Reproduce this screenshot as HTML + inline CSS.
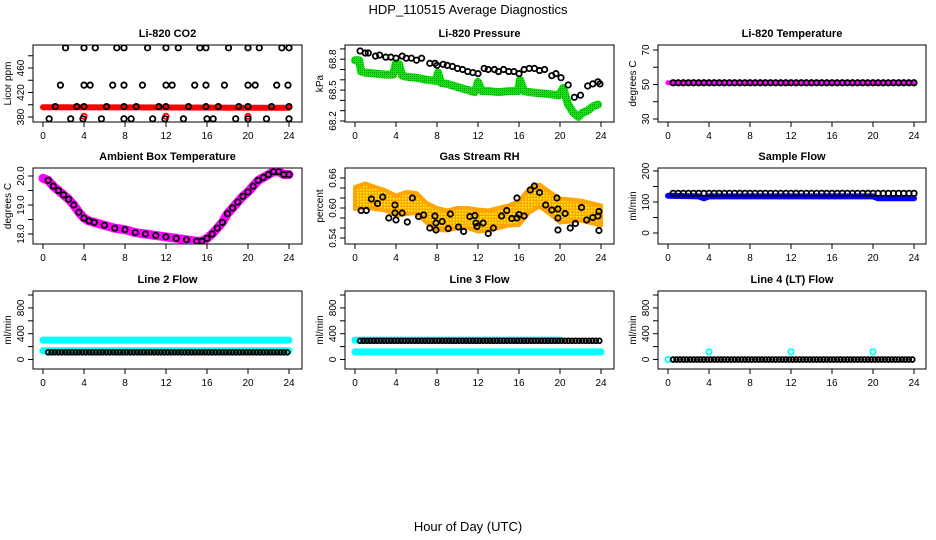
<!DOCTYPE html>
<html><head><meta charset="utf-8">
<style>
body{margin:0;background:#fff;}
svg{display:block;font-family:"Liberation Sans",sans-serif;}
</style></head>
<body>
<svg id="chart" width="936" height="540" viewBox="0 0 936 540">
<defs>
<pattern id="rhdots" width="3" height="3" patternUnits="userSpaceOnUse"><rect width="3" height="3" fill="#ffa500"/><rect width="1.5" height="1.5" fill="#ffff00"/></pattern>
<pattern id="grdots" width="2" height="2" patternUnits="userSpaceOnUse"><rect width="2" height="2" fill="#00ee00"/><rect width="1" height="1" fill="#009900"/></pattern>
</defs>
<text x="468" y="14" text-anchor="middle" font-size="13">HDP_110515  Average Diagnostics</text>
<text x="468" y="531" text-anchor="middle" font-size="13">Hour of Day (UTC)</text>
</svg>
<script>
// ---- data ----
const xTicks=[0,4,8,12,16,20,24];
const co2Top=[2.2,4.0,5.1,7.2,7.9,10.2,12.0,13.2,15.3,15.9,18.1,20.0,21.1,23.3,24.0];
const co2Mid=[1.7,4.0,4.6,6.8,7.9,9.7,12.0,12.6,14.8,15.9,17.7,20.0,20.7,22.8,23.9];
const co2Low=[1.2,3.3,4.0,6.2,7.9,9.1,11.3,12.0,14.2,15.9,17.1,19.1,20.0,22.3,24.0];
const co2Bot=[0.6,2.7,3.9,5.7,7.9,8.6,10.7,11.9,13.7,16.0,16.6,18.8,20.0,21.8,24.0];
const co2Levels=[493,432,397,377];
const co2RedHours=[0,24];const co2RedValues=[396,395];
const co2RedPts=[4,12,20];const co2RedPtVal=[381,381,381];

const presHours=[0.5,1.0,1.3,2.0,2.4,3.0,3.5,4.0,4.6,5.0,5.5,6.0,6.5,7.3,7.8,8.0,8.6,9.0,9.5,10.0,10.5,11.0,11.5,12.0,12.6,13.0,13.6,14.0,14.5,15.0,15.5,16.0,16.5,17.0,17.5,18.0,18.5,19.2,19.6,20.1,20.8,21.4,22.0,22.7,23.2,23.7,23.9];
const presValues=[68.88,68.86,68.86,68.83,68.84,68.82,68.82,68.81,68.83,68.81,68.81,68.79,68.81,68.76,68.76,68.74,68.75,68.74,68.73,68.71,68.70,68.68,68.67,68.66,68.71,68.70,68.70,68.68,68.70,68.68,68.68,68.66,68.70,68.71,68.71,68.69,68.70,68.64,68.66,68.62,68.55,68.43,68.45,68.54,68.56,68.58,68.56];
const greenHours=[0,0.4,0.6,1,2,3,3.7,4,4.3,4.6,5,6,7,7.9,8.1,8.4,9,10,11,11.7,12,12.4,13,14,15,15.9,16.1,16.5,17,18,19,19.9,20.3,20.8,21.3,21.8,22.2,22.7,23.2,23.7];
const greenValues=[68.79,68.79,68.68,68.67,68.66,68.65,68.65,68.76,68.75,68.64,68.63,68.62,68.60,68.59,68.67,68.57,68.56,68.53,68.50,68.48,68.58,68.49,68.49,68.48,68.49,68.49,68.60,68.49,68.48,68.47,68.46,68.45,68.52,68.36,68.28,68.24,68.28,68.30,68.34,68.36];

const tempHours=[0,24];const tempValues=[51,51];

const ambHours=[0,0.5,1,1.5,2,2.5,3,3.5,4,4.5,5,6,7,8,9,10,11,12,13,14,15,15.5,16,16.5,17,17.5,18,18.5,19,19.5,20,20.5,21,21.5,22,22.5,23,23.5,24];
const ambValues=[19.92,19.85,19.65,19.5,19.35,19.2,19.0,18.75,18.55,18.45,18.4,18.3,18.2,18.15,18.05,18.0,17.95,17.9,17.85,17.8,17.75,17.75,17.85,18.0,18.2,18.4,18.7,18.9,19.1,19.3,19.45,19.65,19.85,19.95,20.05,20.15,20.15,20.05,20.05];

const rhBandHours=[0,1,2,3,4,5,6,7,8,9,10,11,12,13,14,15,16,17,18,19,20,21,22,23,24];
const rhBandMean=[0.62,0.625,0.62,0.615,0.605,0.61,0.61,0.59,0.578,0.575,0.58,0.58,0.575,0.575,0.58,0.585,0.59,0.615,0.625,0.61,0.595,0.595,0.595,0.59,0.585];
const rhBandSpread=[0.022,0.024,0.022,0.02,0.02,0.022,0.02,0.02,0.022,0.02,0.02,0.02,0.022,0.02,0.02,0.02,0.024,0.024,0.022,0.022,0.024,0.022,0.02,0.02,0.02];
const rhHours=[0.6,1.1,1.6,2.2,2.7,3.3,3.9,3.9,4.0,4.6,5.1,5.6,6.2,6.7,7.3,7.8,7.9,7.9,8.5,9.1,9.3,10.1,10.6,11.2,11.7,11.8,11.9,12.5,13.0,13.5,14.3,14.8,15.3,15.8,15.8,16.0,16.5,17.1,17.5,18.0,18.6,19.2,19.7,19.8,19.8,19.8,20.5,21.0,21.5,22.1,22.6,23.2,23.7,23.8,23.8];
const rhValues=[0.595,0.595,0.618,0.609,0.622,0.58,0.606,0.59,0.576,0.59,0.572,0.62,0.583,0.586,0.56,0.584,0.57,0.556,0.573,0.559,0.588,0.562,0.553,0.583,0.585,0.57,0.563,0.57,0.549,0.56,0.584,0.595,0.579,0.62,0.58,0.587,0.584,0.636,0.644,0.631,0.606,0.596,0.62,0.598,0.58,0.556,0.589,0.56,0.569,0.601,0.576,0.581,0.584,0.593,0.555];

const sampleBlueHours=[0,3,3.5,4,4.5,8,8.5,12,12.5,16,16.5,20,20.5,24];
const sampleBlueValues=[120,118,112,118,118,118,118,118,118,118,118,118,112,112];
const sampleBlack=128;

const line2CyanHi=300, line2CyanLo=135, line2Black=112;
const line3CyanHi=300, line3CyanHiEnd=20, line3CyanLo=118, line3Black=290;
const line4Black=0, line4SpikeHours=[4,12,20], line4SpikeValues=[118,118,118];

// ---- layout ----
const cols=[{l:33,r:302},{l:345,r:614},{l:658,r:926}];
const rows=[{t:45,b:122},{t:168,b:244},{t:291,b:369}];
const svg=document.getElementById('chart');
const NS='http://www.w3.org/2000/svg';
function mk(tag,attrs,parent){const e=document.createElementNS(NS,tag);for(const k in attrs)e.setAttribute(k,attrs[k]);(parent||svg).appendChild(e);return e;}
function seq(a,b,s){const o=[];for(let v=a;v<=b+1e-9;v+=s)o.push(+v.toFixed(4));return o;}

function panel(ci,ri,o){
  const c=cols[ci],r=rows[ri];
  const g=mk('g',{});
  
  
  const x0=c.l+10,xs=246/24;
  const X=h=>x0+h*xs;
  const Y=v=>r.b-(v-o.ymin)/(o.ymax-o.ymin)*(r.b-r.t);
  const box=mk('rect',{x:c.l,y:r.t,width:c.r-c.l,height:r.b-r.t,fill:'none',stroke:'#000','stroke-width':1},g);
  
  
  const t=mk('text',{x:(c.l+c.r)/2,y:r.t-8,'text-anchor':'middle','font-size':11,'font-weight':'bold'},g);
  t.textContent=o.title;
  
  
  xTicks.forEach(h=>{
    mk('line',{x1:X(h),x2:X(h),y1:r.b,y2:r.b+5,stroke:'#000'},g);
    const tl=mk('text',{x:X(h),y:r.b+17,'text-anchor':'middle','font-size':10},g);
    tl.textContent=h;
    
    
  });
  o.yticks.forEach(v=>{mk('line',{x1:c.l-5,x2:c.l,y1:Y(v),y2:Y(v),stroke:'#000'},g);});
  o.ylabels.forEach(v=>{
    const yl=mk('text',{x:0,y:0,'text-anchor':'middle','font-size':10,transform:`translate(${c.l-9},${Y(v)}) rotate(-90)`},g);
    yl.textContent=o.fmt?o.fmt(v):v;
    
    
  });
  const at=mk('text',{x:0,y:0,'text-anchor':'middle','font-size':10,transform:`translate(${c.l-22},${(r.t+r.b)/2}) rotate(-90)`},g);
  at.textContent=o.ylab;
  
  
  const clip='clip'+ci+ri;
  const cp=mk('clipPath',{id:clip},g);mk('rect',{x:c.l,y:r.t,width:c.r-c.l,height:r.b-r.t},cp);
  const d=mk('g',{'clip-path':`url(#${clip})`},g);
  return {X,Y,g:d};
}
function band(p,hours,vals,color,w,name){
  const pl=mk('polyline',{points:hours.map((h,i)=>p.X(h)+','+p.Y(vals[i])).join(' '),fill:'none',stroke:color,'stroke-width':w,'stroke-linejoin':'round','stroke-linecap':'round'},p.g);
  
  
}
function pts(p,hours,vals,color,name,rad){
  hours.forEach((h,i)=>{
    const v=Array.isArray(vals)?vals[i]:vals;
    const c=mk('circle',{cx:p.X(h),cy:p.Y(v),r:rad||2.7,fill:'none',stroke:color,'stroke-width':1.8},p.g);
    
    
  });
}
const halfHours=seq(0.5,24,0.5);

// CO2
let p=panel(0,0,{name:'co2-panel',title:'Li-820 CO2',ylab:'Licor ppm',ymin:371.8,ymax:497.6,yticks:[380,400,420,440,460,480],ylabels:[380,420,460]});
band(p,co2RedHours,co2RedValues,'#ff0000',6,'co2-series');
pts(p,co2RedPts,co2RedPtVal,'#ff0000','co2-red-point');
pts(p,co2Top,co2Levels[0],'#000','co2-point');
pts(p,co2Mid,co2Levels[1],'#000','co2-point');
pts(p,co2Low,co2Levels[2],'#000','co2-point');
pts(p,co2Bot,co2Levels[3],'#000','co2-point');

// Pressure
p=panel(1,0,{name:'pressure-panel',title:'Li-820 Pressure',ylab:'kPa',ymin:68.19,ymax:68.938,yticks:seq(68.2,68.9,0.1),ylabels:[68.2,68.5,68.8],fmt:v=>v.toFixed(1)});
band(p,greenHours,greenValues,'url(#grdots)',8,'pressure-green-series');
pts(p,presHours,presValues,'#000','pressure-point');

// Temperature
p=panel(2,0,{name:'li820-temperature-panel',title:'Li-820 Temperature',ylab:'degrees C',ymin:28.26,ymax:72.9,yticks:[30,40,50,60,70],ylabels:[30,50,70]});
band(p,tempHours,tempValues,'#ff00ff',5,'temperature-series');
pts(p,halfHours,tempValues[0],'#000','temperature-point');

// Ambient
p=panel(0,1,{name:'ambient-temperature-panel',title:'Ambient Box Temperature',ylab:'degrees C',ymin:17.655,ymax:20.276,yticks:[18,18.5,19,19.5,20],ylabels:[18,19,20],fmt:v=>v.toFixed(1)});
band(p,ambHours,ambValues,'#ff00ff',9,'ambient-series');
pts(p,ambHours.filter(h=>h>=0.5),ambValues.filter((v,i)=>ambHours[i]>=0.5),'#000','ambient-point');

// RH
p=panel(1,1,{name:'rh-panel',title:'Gas Stream RH',ylab:'percent',ymin:0.528,ymax:0.68,yticks:seq(0.54,0.66,0.02),ylabels:[0.54,0.6,0.66],fmt:v=>v.toFixed(2)});
(function(){
  const up=rhBandHours.map((h,i)=>p.X(h)+','+p.Y(rhBandMean[i]+rhBandSpread[i]));
  const dn=rhBandHours.map((h,i)=>p.X(h)+','+p.Y(rhBandMean[i]-rhBandSpread[i])).reverse();
  const poly=mk('polygon',{points:up.concat(dn).join(' '),fill:'url(#rhdots)',stroke:'#ffa500','stroke-width':4,'stroke-linejoin':'round'},p.g);
  
  
})();
pts(p,rhHours,rhValues,'#000','rh-point');

// Sample flow
p=panel(2,1,{name:'sample-flow-panel',title:'Sample Flow',ylab:'ml/min',ymin:-35.5,ymax:209.7,yticks:[0,50,100,150,200],ylabels:[0,100,200]});
band(p,sampleBlueHours,sampleBlueValues,'#0000ff',6,'sample-flow-series');
pts(p,halfHours,sampleBlack,'#000','sample-flow-point');

const flowCfg={ylab:'ml/min',ymin:-147,ymax:1062,yticks:[0,200,400,600,800,1000],ylabels:[0,400,800]};
const thirdHours=seq(0.5,24,1/3);
// Line 2
p=panel(0,2,Object.assign({name:'line2-flow-panel',title:'Line 2 Flow'},flowCfg));
band(p,[0,24],[line2CyanHi,line2CyanHi],'#00ffff',7,'line2-high-series');
band(p,[0,24],[line2CyanLo,line2CyanLo],'#00ffff',7,'line2-low-series');
pts(p,thirdHours,line2Black,'#000','line2-point',2.4);
// Line 3
p=panel(1,2,Object.assign({name:'line3-flow-panel',title:'Line 3 Flow'},flowCfg));
band(p,[0,line3CyanHiEnd],[line3CyanHi,line3CyanHi],'#00ffff',7,'line3-high-series');
band(p,[0,24],[line3CyanLo,line3CyanLo],'#00ffff',7,'line3-low-series');
pts(p,thirdHours,line3Black,'#000','line3-point',2.4);
// Line 4
p=panel(2,2,Object.assign({name:'line4-flow-panel',title:'Line 4 (LT) Flow'},flowCfg));
pts(p,[0],[0],'#00ffff','line4-cyan-point');
pts(p,thirdHours,line4Black,'#000','line4-point',2.4);
pts(p,line4SpikeHours,line4SpikeValues,'#00ffff','line4-spike-point');
</script>
</body></html>
